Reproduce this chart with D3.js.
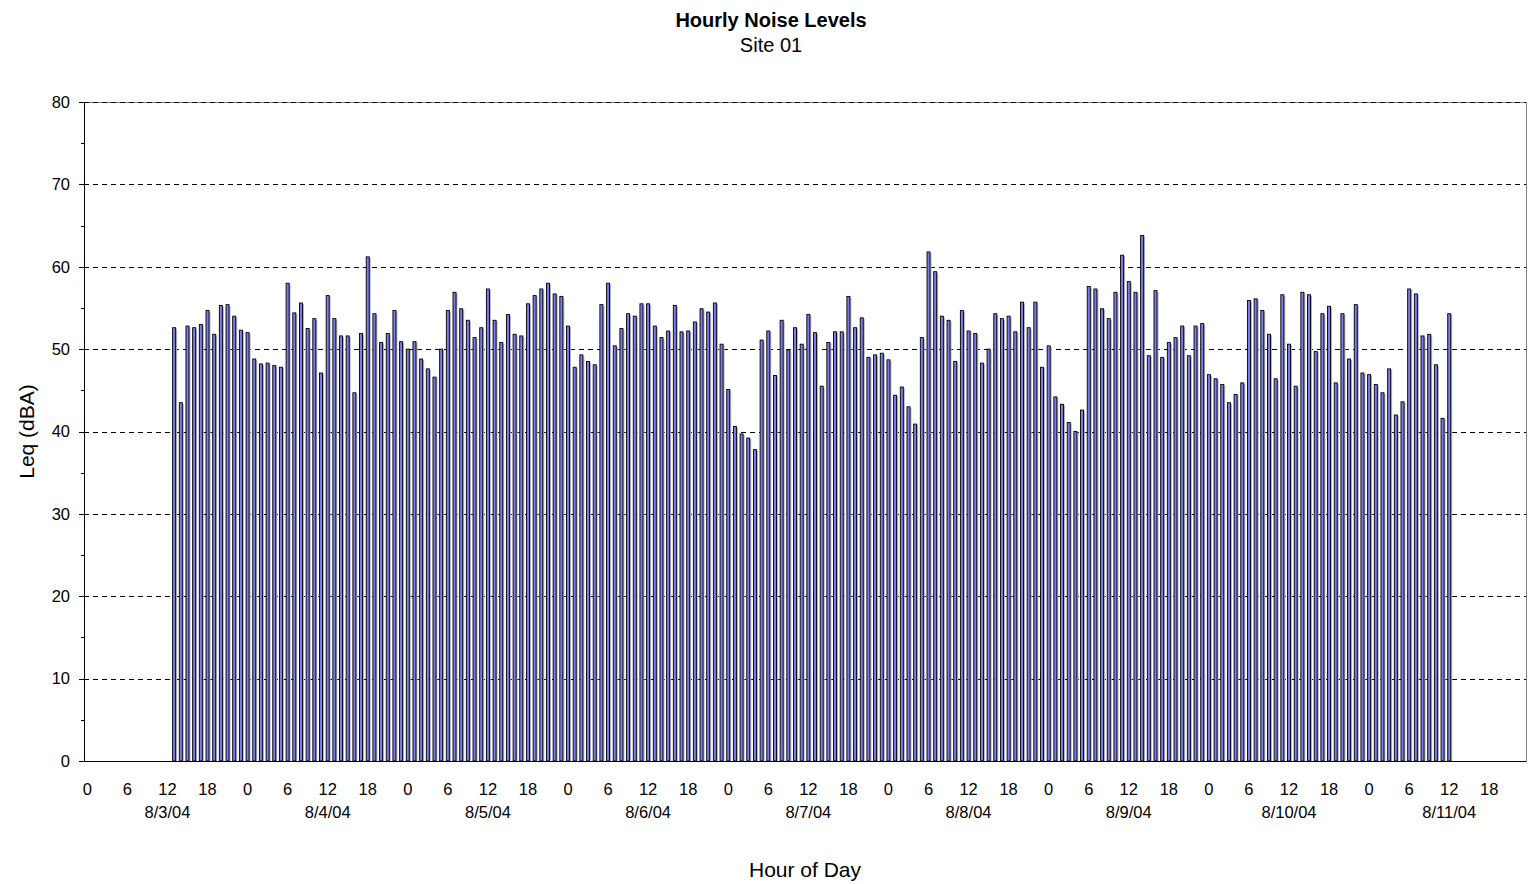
<!DOCTYPE html>
<html lang="en">
  <head>
    <meta charset="UTF-8" />
    <title>Hourly Noise Levels</title>
    <script src="https://d3js.org/d3.v7.min.js"></script>
    <style>
      body {
        margin: 0;
        font-family: Arial, 'Liberation Sans', sans-serif;
        background: #fff;
      }
      .grid line {
        stroke: #000;
        stroke-dasharray: 5, 4;
        shape-rendering: crispEdges;
      }
      .grid path {
        stroke: none;
      }
      .axis path,
      .axis line {
        stroke: #000;
        shape-rendering: crispEdges;
      }
      .axis text {
        font-size: 16.5px;
        fill: #000;
      }
    </style>
  </head>
  <body>
    <div id="chart"></div>
    <script>
      // days in the record and the hours shown on the axis
      const days = ['8/3/04', '8/4/04', '8/5/04', '8/6/04', '8/7/04', '8/8/04', '8/9/04', '8/10/04', '8/11/04'];
      const hourTicks = [0, 6, 12, 18];
      const yTicks = [0, 10, 20, 30, 40, 50, 60, 70, 80];
      // first reading: 8/3/04 hour 13
      const firstDay = 0,
        firstHour = 13;
      // hourly Leq (dBA), one value per hour from the first reading
      const leq = [
        52.6, 43.5, 52.8, 52.6, 53.0, 54.7, 51.8, 55.3, 55.4, 54.0, 52.3,
        52.0, 48.8, 48.2, 48.3, 48.0, 47.8, 58.0, 54.4, 55.6, 52.5, 53.7, 47.1, 56.5,
        53.7, 51.6, 51.6, 44.7, 51.9, 61.2, 54.3, 50.8, 51.9, 54.7, 50.9, 50.0, 50.9,
        48.8, 47.6, 46.6, 50.0, 54.7, 56.9, 54.9, 53.5, 51.4, 52.6, 57.3, 53.5,
        50.8, 54.2, 51.8, 51.6, 55.5, 56.5, 57.3, 58.0, 56.7, 56.4, 52.8,
        47.8, 49.3, 48.5, 48.1, 55.4, 58.0, 50.4, 52.5, 54.3, 54.0, 55.5, 55.5, 52.8, 51.4,
        52.2, 55.3, 52.1, 52.2, 53.3, 54.9, 54.5, 55.6, 50.6,
        45.1, 40.6, 39.7, 39.2, 37.8, 51.1, 52.2, 46.8, 53.5, 49.9, 52.6, 50.6, 54.2, 52.0, 45.5,
        50.8, 52.1, 52.1, 56.4, 52.6, 53.8, 49.0, 49.3, 49.5, 48.7,
        44.4, 45.4, 43.0, 40.9, 51.4, 61.8, 59.4, 54.0, 53.5, 48.5, 54.7, 52.2, 51.9, 48.3, 50.0,
        54.3, 53.7, 54.0, 52.1, 55.7, 52.6, 55.7, 47.8, 50.4,
        44.2, 43.3, 41.1, 40.0, 42.6, 57.6, 57.3, 54.9, 53.7, 56.9, 61.4, 58.2, 56.9, 63.8, 49.2,
        57.1, 49.0, 50.8, 51.4, 52.8, 49.2, 52.8, 53.1, 46.9,
        46.4, 45.7, 43.5, 44.5, 45.9, 55.9, 56.1, 54.7, 51.8, 46.4, 56.6, 50.6, 45.5, 56.9,
        56.6, 49.7, 54.3, 55.2, 45.9, 54.3, 48.8, 55.4, 47.1, 46.9,
        45.7, 44.7, 47.6, 42.0, 43.6, 57.3, 56.7, 51.6, 51.8, 48.1, 41.6, 54.3,
      ];

      const W = 1531,
        H = 884;
      const plot = { left: 84, right: 1526, top: 102, bottom: 761 };

      const slots = d3.range(days.length * 24);
      const data = leq.map((v, i) => ({
        slot: firstDay * 24 + firstHour + i,
        value: v,
      }));

      const svg = d3
        .select('#chart')
        .append('svg')
        .attr('width', W)
        .attr('height', H)
        .style('font-family', 'Arial, "Liberation Sans", sans-serif');

      const x = d3
        .scaleBand()
        .domain(slots)
        .range([plot.left, plot.right])
        .padding(0);
      const y = d3
        .scaleLinear()
        .domain([0, 80])
        .range([plot.bottom, plot.top]);

      // plot area border
      svg
        .append('rect')
        .attr('x', plot.left)
        .attr('y', plot.top)
        .attr('width', plot.right - plot.left)
        .attr('height', plot.bottom - plot.top)
        .attr('fill', '#fff')
        .attr('stroke', '#808080')
        .attr('shape-rendering', 'crispEdges');

      // dashed gridlines
      svg
        .append('g')
        .attr('class', 'grid')
        .attr('transform', `translate(${plot.left},0)`)
        .call(
          d3
            .axisLeft(y)
            .tickValues(yTicks.slice(1))
            .tickSize(-(plot.right - plot.left))
            .tickFormat(''),
        );

      // bars: gray shadow then blue bar with black outline
      const bw = x.bandwidth() * 0.45;
      svg
        .append('g')
        .selectAll('rect')
        .data(data)
        .join('rect')
        .attr('x', (d) => x(d.slot) + (x.bandwidth() - bw) / 2 + 1.5)
        .attr('y', (d) => y(d.value) + 1)
        .attr('width', bw)
        .attr('height', (d) => plot.bottom - y(d.value) - 1)
        .attr('fill', '#b4b4b4');

      svg
        .append('g')
        .selectAll('rect')
        .data(data)
        .join('rect')
        .attr('x', (d) => x(d.slot) + (x.bandwidth() - bw) / 2)
        .attr('y', (d) => y(d.value))
        .attr('width', bw)
        .attr('height', (d) => plot.bottom - y(d.value))
        .attr('fill', '#7b7bea')
        .attr('stroke', '#000')
        .attr('stroke-width', 0.9);

      // y axis with minor ticks
      svg
        .append('g')
        .attr('class', 'axis')
        .attr('transform', `translate(${plot.left},0)`)
        .call(d3.axisLeft(y).ticks(16).tickSize(3).tickFormat(''));
      svg
        .append('g')
        .attr('class', 'axis')
        .attr('transform', `translate(${plot.left},0)`)
        .call(
          d3
            .axisLeft(y)
            .tickValues(yTicks)
            .tickSize(5)
            .tickPadding(9),
        );

      // x axis line
      svg
        .append('line')
        .attr('x1', plot.left)
        .attr('x2', plot.right)
        .attr('y1', plot.bottom + 0.5)
        .attr('y2', plot.bottom + 0.5)
        .attr('stroke', '#000');

      // hour labels and day labels
      const hourLabels = svg.append('g').attr('font-size', 16.5);
      days.forEach((day, di) => {
        hourTicks.forEach((h) => {
          hourLabels
            .append('text')
            .attr('x', x(di * 24 + h) + x.bandwidth() / 2)
            .attr('y', 795)
            .attr('text-anchor', 'middle')
            .text(h);
        });
        hourLabels
          .append('text')
          .attr('x', x(di * 24 + 12) + x.bandwidth() / 2)
          .attr('y', 818)
          .attr('text-anchor', 'middle')
          .text(day);
      });

      // titles
      svg
        .append('text')
        .attr('x', 771)
        .attr('y', 27)
        .attr('text-anchor', 'middle')
        .attr('font-size', 20)
        .attr('font-weight', 'bold')
        .text('Hourly Noise Levels');
      svg
        .append('text')
        .attr('x', 771)
        .attr('y', 52)
        .attr('text-anchor', 'middle')
        .attr('font-size', 20)
        .text('Site 01');
      svg
        .append('text')
        .attr('x', (plot.left + plot.right) / 2)
        .attr('y', 877)
        .attr('text-anchor', 'middle')
        .attr('font-size', 21)
        .text('Hour of Day');
      svg
        .append('text')
        .attr('transform', 'rotate(-90)')
        .attr('x', -(plot.top + plot.bottom) / 2)
        .attr('y', 34)
        .attr('text-anchor', 'middle')
        .attr('font-size', 21)
        .text('Leq (dBA)');
    </script>
  </body>
</html>
